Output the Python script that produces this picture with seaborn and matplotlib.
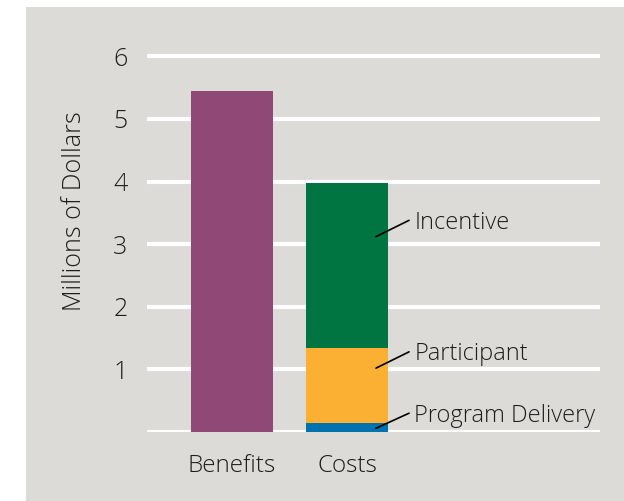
import matplotlib
matplotlib.use("Agg")
import matplotlib.pyplot as plt
import seaborn as sns
import pandas as pd
from matplotlib.patches import Rectangle

# data
categories = ["Benefits", "Costs"]
benefits = [5.44, 0.0]
delivery = [0.0, 0.14]
participant = [0.0, 1.20]
incentive = [0.0, 2.64]
y_ticks = [1, 2, 3, 4, 5, 6]
segment_labels = ["Incentive", "Participant", "Program Delivery"]

bg = "#dcdbd8"
txt = "#1e1e1e"
fs = 18
sns.set_theme(style="white")
plt.rcParams['font.family'] = ['Open Sans', 'DejaVu Sans']
plt.rcParams['font.weight'] = 'light'

fig = plt.figure(figsize=(6.24, 5.01), dpi=100, facecolor="white")
fig.patches.append(Rectangle((26 / 624, 0), 1, (501 - 7) / 501, transform=fig.transFigure,
                             facecolor=bg, edgecolor="none", zorder=-10))
ax = fig.add_axes([147 / 624, (501 - 432) / 501, (600 - 147) / 624, (432 - 50) / 501])
ax.patch.set_alpha(0)

df = pd.DataFrame({"cat": categories, "benefits": benefits, "delivery": delivery,
                   "participant": participant, "incentive": incentive})
df["b1"] = df["delivery"]
df["b2"] = df["b1"] + df["participant"]
df["b3"] = df["b2"] + df["incentive"]

for y in [0] + y_ticks:
    ax.axhline(y, color="white", lw=3, zorder=0.5)

w = 0.71
kw = dict(data=df, x="cat", width=w, saturation=1, ax=ax, zorder=2, linewidth=0, edgecolor="none")
sns.barplot(y="benefits", color="#904877", **kw)
sns.barplot(y="b3", color="#007542", **kw)
sns.barplot(y="b2", color="#fbb034", **kw)
sns.barplot(y="b1", color="#0072ad", **kw)

ax.set_xlim(-0.74, 3.2)
ax.set_ylim(0, 6.1)
for s in ax.spines.values():
    s.set_visible(False)
ax.set_yticks(y_ticks)
ax.set_yticklabels([str(t) for t in y_ticks], fontsize=fs, color=txt, fontweight="light")
ax.tick_params(axis="y", length=0, pad=14)
ax.tick_params(axis="x", length=0, pad=16, labelsize=fs - 0.5, labelcolor=txt)
for t in ax.get_xticklabels():
    t.set_fontweight("light")
ax.set_xlabel("")
ax.set_ylabel("Millions of Dollars", fontsize=fs, color=txt, fontweight="light")
ax.yaxis.set_label_coords(-0.132, 0.579)

# leader lines for the cost segments
ann = [(3.12, 3.38), (1.02, 1.28), (0.06, 0.30)]
for lab, (y0, y1) in zip(segment_labels, ann):
    ax.plot([1.252, 1.539], [y0, y1], color="black", lw=1.2, zorder=3, clip_on=False)
    ax.text(1.585, y1 - 0.04, lab, fontsize=17, color=txt, va="center", ha="left",
            fontweight="light", zorder=3)

fig.savefig("out.png", dpi=100, facecolor="white")
